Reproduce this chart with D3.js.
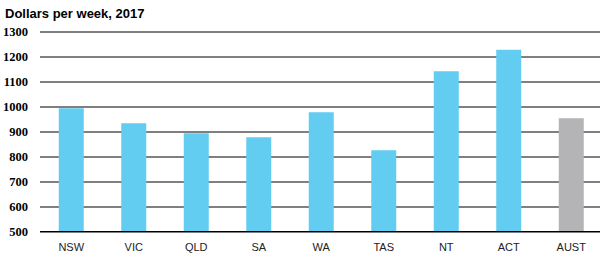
<!DOCTYPE html>
<html>
<head>
<meta charset="utf-8">
<script src="https://cdn.jsdelivr.net/npm/d3@7"></script>
<style>
  body { margin: 0; background: #fff; }
</style>
</head>
<body>
<div id="chart"></div>
<script>
// Data
const states = ["NSW", "VIC", "QLD", "SA", "WA", "TAS", "NT", "ACT", "AUST"];
const earnings = [993, 933, 893, 877, 977, 825, 1141, 1227, 953];
const yTicks = [500, 600, 700, 800, 900, 1000, 1100, 1200, 1300];

const width = 604;
const height = 265;
const svg = d3.select("#chart")
  .append("svg")
  .attr("width", width)
  .attr("height", height);

// Scales
const x = d3.scaleBand()
  .domain(states)
  .range([40, 602.5])
  .paddingInner(0.6)
  .paddingOuter(0.3);
const y = d3.scaleLinear()
  .domain([500, 1300])
  .range([231.5, 31.5]);

// Title
svg.append("text")
  .attr("x", 5)
  .attr("y", 18)
  .style("font-family", "'Liberation Sans', Arial, sans-serif")
  .style("font-weight", "bold")
  .style("font-size", "13px")
  .text("Dollars per week, 2017");

// Gridlines and y labels
const yAxis = svg.append("g")
  .attr("transform", "translate(40, 0)")
  .call(d3.axisLeft(y).tickValues(yTicks).tickSize(-560).tickPadding(12).tickFormat(d3.format("d")))
  .attr("font-family", "'Liberation Serif', 'Times New Roman', serif")
  .attr("font-size", 12.5)
  .attr("font-weight", "bold");
yAxis.select(".domain").remove();
yAxis.selectAll(".tick line")
  .attr("stroke", "#000")
  .attr("stroke-width", 1);
yAxis.selectAll(".tick text")
  .attr("fill", "#000");

// Bars
svg.append("g")
  .selectAll("rect")
  .data(states)
  .enter().append("rect")
  .attr("x", d => x(d))
  .attr("y", (d, i) => y(earnings[i]))
  .attr("width", x.bandwidth())
  .attr("height", (d, i) => y(500) - y(earnings[i]))
  .attr("fill", d => d === "AUST" ? "#b4b4b6" : "#62cdf0");

// Redraw the base line over the bars
svg.append("line")
  .attr("x1", 40)
  .attr("x2", 600)
  .attr("y1", y(500))
  .attr("y2", y(500))
  .attr("stroke", "#000");

// Category labels
const xAxis = svg.append("g")
  .attr("transform", `translate(0, ${y(500)})`)
  .call(d3.axisBottom(x).tickSize(0).tickPadding(12))
  .attr("font-family", "'Liberation Sans', Arial, sans-serif")
  .attr("font-size", 11);
xAxis.select(".domain").remove();
xAxis.selectAll(".tick text")
  .attr("fill", "#222");
</script>
</body>
</html>
